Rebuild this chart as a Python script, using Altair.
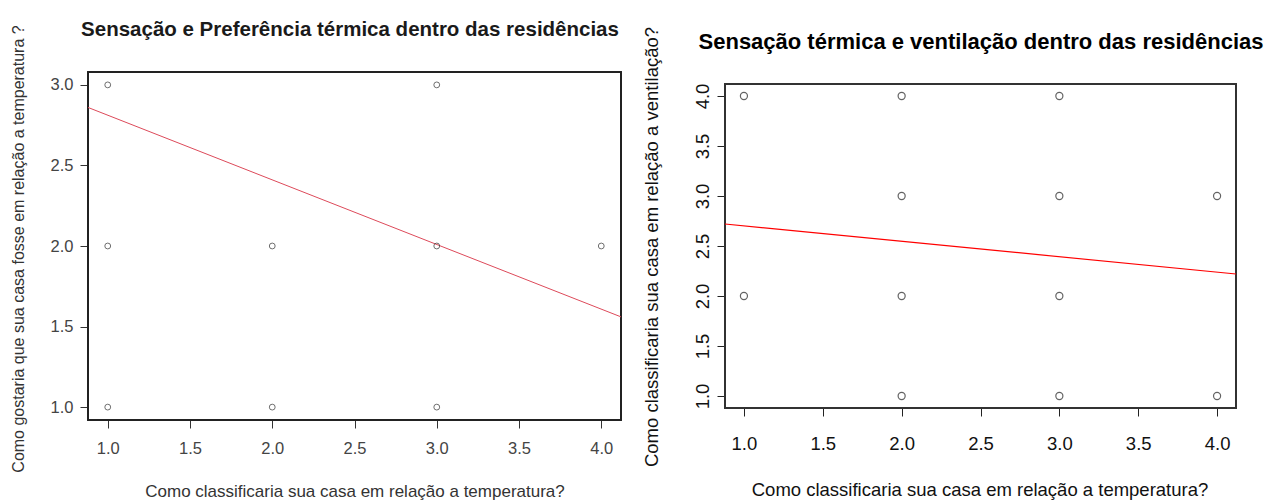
import altair as alt
import pandas as pd

# ---------------- data ----------------
# Left panel: temperature classification vs. preferred temperature
left_temp = [1, 1, 1, 2, 2, 3, 3, 3, 4]
left_pref = [3, 2, 1, 2, 1, 3, 2, 1, 2]
left_fit_temp = [0.88, 4.12]
left_fit_pref = [2.86, 1.56]

# Right panel: temperature classification vs. ventilation classification
right_temp = [1, 1, 2, 2, 2, 2, 3, 3, 3, 3, 4, 4]
right_vent = [4, 2, 4, 3, 2, 1, 4, 3, 2, 1, 3, 1]
right_fit_temp = [0.88, 4.12]
right_fit_vent = [2.72, 2.22]

x_ticks = [1.0, 1.5, 2.0, 2.5, 3.0, 3.5, 4.0]
left_y_ticks = [1.0, 1.5, 2.0, 2.5, 3.0]
right_y_ticks = [1.0, 1.5, 2.0, 2.5, 3.0, 3.5, 4.0]

left_x_domain = [0.88, 4.12]
left_y_domain = [0.92, 3.08]
right_x_domain = [0.88, 4.12]
right_y_domain = [0.88, 4.12]

left_title = "Sensação e Preferência térmica dentro das residências"
left_xlab = "Como classificaria sua casa em relação a temperatura?"
left_ylab = "Como gostaria que sua casa fosse em relação a temperatura ?"
right_title = "Sensação térmica e ventilação dentro das residências"
right_xlab = "Como classificaria sua casa em relação a temperatura?"
right_ylab = "Como classificaria sua casa em relação a ventilação?"

# ---------------- layout (pixels) ----------------
W, H = 1261, 493
FONT = "Liberation Sans"
L_X = [80, 613]
L_Y = [412, 64]
R_X = [717, 1228]
R_Y = [400, 76]

# ---------------- left panel ----------------
left_df = pd.DataFrame({"temp": left_temp, "pref": left_pref})
left_fit_df = pd.DataFrame({"temp": left_fit_temp, "pref": left_fit_pref})

lx = alt.X(
    "temp:Q",
    scale=alt.Scale(domain=left_x_domain, range=L_X, nice=False, zero=False),
    axis=alt.Axis(orient="bottom", offset=L_Y[0] - H, values=x_ticks, format=".1f",
                  title=None, grid=False, domain=False, tickSize=8, tickColor="#333",
                  labelFontSize=16.5, labelColor="#444", labelPadding=12, labelFont=FONT,
                  labelFlush=False, labelOverlap=False),
)
ly = alt.Y(
    "pref:Q",
    scale=alt.Scale(domain=left_y_domain, range=L_Y, nice=False, zero=False),
    axis=alt.Axis(orient="left", offset=-L_X[0], values=left_y_ticks, format=".1f",
                  title=None, grid=False, domain=False, tickSize=8, tickColor="#333",
                  labelFontSize=16.5, labelColor="#444", labelPadding=7, labelFont=FONT,
                  labelFlush=False, labelOverlap=False),
)

left_frame = alt.Chart(left_df).mark_rect(fillOpacity=0, stroke="#222", strokeWidth=1.2).encode(
    x=alt.datum(left_x_domain[0]), x2=alt.datum(left_x_domain[1]),
    y=alt.datum(left_y_domain[0]), y2=alt.datum(left_y_domain[1]),
)
left_pts = alt.Chart(left_df).mark_point(shape="circle", filled=False, size=34,
                                          color="#333", strokeWidth=1).encode(x=lx, y=ly)
left_line = alt.Chart(left_fit_df).mark_line(color="#dd4a5a", strokeWidth=1).encode(x=lx, y=ly)
left = alt.layer(left_frame, left_line, left_pts)

# ---------------- right panel ----------------
right_df = pd.DataFrame({"temp2": right_temp, "vent": right_vent})
right_fit_df = pd.DataFrame({"temp2": right_fit_temp, "vent": right_fit_vent})

rx = alt.X(
    "temp2:Q",
    scale=alt.Scale(domain=right_x_domain, range=R_X, nice=False, zero=False),
    axis=alt.Axis(orient="bottom", offset=R_Y[0] - H, values=x_ticks, format=".1f",
                  title=None, grid=False, domain=False, tickSize=8, tickColor="#222",
                  labelFontSize=18.5, labelColor="#111", labelPadding=18, labelFont=FONT,
                  labelFlush=False, labelOverlap=False),
)
ry = alt.Y(
    "vent:Q",
    scale=alt.Scale(domain=right_y_domain, range=R_Y, nice=False, zero=False),
    axis=alt.Axis(orient="left", offset=-R_X[0], values=right_y_ticks, format=".1f",
                  title=None, grid=False, domain=False, tickSize=8, tickColor="#222",
                  labelFontSize=18.5, labelColor="#111", labelPadding=5, labelFont=FONT,
                  labelAngle=270, labelAlign="center", labelBaseline="bottom",
                  labelFlush=False, labelOverlap=False),
)

right_frame = alt.Chart(right_df).mark_rect(fillOpacity=0, stroke="#333", strokeWidth=1.2).encode(
    x=alt.datum(right_x_domain[0]), x2=alt.datum(right_x_domain[1]),
    y=alt.datum(right_y_domain[0]), y2=alt.datum(right_y_domain[1]),
)
right_pts = alt.Chart(right_df).mark_point(shape="circle", filled=False, size=50,
                                            color="#222", strokeWidth=1.2).encode(x=rx, y=ry)
right_line = alt.Chart(right_fit_df).mark_line(color="#ff0000", strokeWidth=1.2).encode(x=rx, y=ry)
right = alt.layer(right_frame, right_line, right_pts)


# ---------------- texts ----------------
def label(txt, x, y, size, bold=False, angle=0, color="#000"):
    return alt.Chart(pd.DataFrame({"t": [txt]})).mark_text(
        font=FONT, fontSize=size, fontWeight="bold" if bold else "normal",
        angle=angle, align="center", baseline="middle", color=color,
    ).encode(x=alt.value(x), y=alt.value(y), text="t:N")


texts = [
    label(left_title, 342, 22, 20.5, bold=True, color="#1a1a1a"),
    label(left_xlab, 347, 484, 17, color="#333"),
    label(left_ylab, 11, 241, 16, angle=270, color="#333"),
    label(right_title, 973, 34, 22, bold=True),
    label(right_xlab, 972, 482, 18.5, color="#111"),
    label(right_ylab, 644, 239, 18.5, angle=270, color="#111"),
]

chart = alt.layer(left, right, *texts).resolve_scale(
    x="independent", y="independent"
).properties(
    width=W, height=H, autosize=alt.AutoSizeParams(type="none"), padding=0
).configure_view(stroke=None)

chart.save("out.html", embed_options={"renderer": "svg", "actions": False})
